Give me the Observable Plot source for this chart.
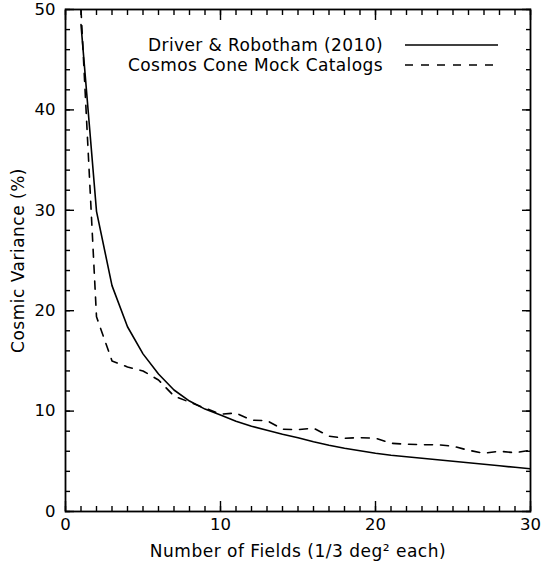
<!DOCTYPE html>
<html>
<head>
<meta charset="utf-8">
<script src="https://cdn.jsdelivr.net/npm/d3@7"></script>
<script src="https://cdn.jsdelivr.net/npm/@observablehq/plot@0.6"></script>
<style>
  html, body { margin: 0; padding: 0; background: #fff; }
  #chart { width: 543px; height: 563px; }
  .ttl { letter-spacing: 0.5px; }
</style>
</head>
<body>
<div id="chart"></div>
<script>
// ---- data ----
const fields = [1,2,3,4,5,6,7,8,9,10,11,12,13,14,15,16,17,18,19,20,21,22,23,24,25,26,27,28,29,30];
const driverRobotham = [48.5,29.9,22.5,18.4,15.7,13.7,12.1,11.0,10.2,9.6,9.0,8.5,8.1,7.7,7.35,6.95,6.6,6.3,6.05,5.8,5.6,5.45,5.3,5.15,5.0,4.85,4.7,4.55,4.4,4.25];
const cosmosMock = [50.0,19.4,15.0,14.4,14.0,13.1,11.5,10.9,10.3,9.7,9.8,9.1,9.05,8.2,8.15,8.3,7.5,7.3,7.35,7.3,6.8,6.7,6.65,6.65,6.5,6.1,5.8,6.0,5.85,6.1];
const seriesNames = ["Driver & Robotham (2010)", "Cosmos Cone Mock Catalogs"];
const seriesDash = [null, "8,8"];
const xMajor = [0, 10, 20, 30];
const xMinor = d3.range(0, 31, 1);
const yMajor = [0, 10, 20, 30, 40, 50];
const yMinor = d3.range(0, 51, 2);
const xLabel = "Number of Fields (1/3 deg² each)";
const yLabel = "Cosmic Variance (%)";

const rows = [];
fields.forEach((n, i) => {
  rows.push({series: seriesNames[0], n, v: driverRobotham[i]});
  rows.push({series: seriesNames[1], n, v: cosmosMock[i]});
});

const W = 543, H = 563;
const mL = 65, mR = 13, mT = 9, mB = 52;

const lineW = 1.6;
const plot = Plot.plot({
  width: W, height: H,
  marginLeft: mL, marginRight: mR, marginTop: mT, marginBottom: mB,
  style: {fontFamily: "DejaVu Sans", fontSize: "16px", color: "black", background: "white"},
  x: {domain: [0, 30]},
  y: {domain: [0, 50]},
  marks: [
    Plot.line(rows.filter(d => d.series === seriesNames[0]), {x: "n", y: "v", stroke: "black", strokeWidth: lineW, clip: true}),
    Plot.line(rows.filter(d => d.series === seriesNames[1]), {x: "n", y: "v", stroke: "black", strokeWidth: lineW, strokeDasharray: seriesDash[1], clip: true}),
    // inward ticks on all four sides
    Plot.axisX(xMajor, {anchor: "bottom", tickSize: -10, fill: "none", label: null, strokeWidth: 1.4}),
    Plot.axisX(xMinor, {anchor: "bottom", tickSize: -5, fill: "none", label: null, strokeWidth: 1.4}),
    Plot.axisX(xMajor, {anchor: "top", tickSize: -10, fill: "none", label: null, strokeWidth: 1.4}),
    Plot.axisX(xMinor, {anchor: "top", tickSize: -5, fill: "none", label: null, strokeWidth: 1.4}),
    Plot.axisY(yMajor, {anchor: "left", tickSize: -9, fill: "none", label: null, strokeWidth: 1.4}),
    Plot.axisY(yMinor, {anchor: "left", tickSize: -5, fill: "none", label: null, strokeWidth: 1.4}),
    Plot.axisY(yMajor, {anchor: "right", tickSize: -9, fill: "none", label: null, strokeWidth: 1.4}),
    Plot.axisY(yMinor, {anchor: "right", tickSize: -5, fill: "none", label: null, strokeWidth: 1.4}),
    // tick labels
    Plot.axisX(xMajor, {anchor: "bottom", tickSize: 0, tickPadding: 7, label: null, tickFormat: d3.format("d"), fontSize: 16.5}),
    Plot.axisY(yMajor, {anchor: "left", tickSize: 0, tickPadding: 10, label: null, tickFormat: d3.format("d"), fontSize: 16.5}),
    // axis titles
    Plot.text([xLabel], {frameAnchor: "bottom", text: d => d, textAnchor: "middle", lineAnchor: "bottom", dy: 45, fontSize: 17, fill: "black", className: "ttl"}),
    Plot.text([yLabel], {frameAnchor: "left", text: d => d, textAnchor: "middle", lineAnchor: "bottom", rotate: -90, dx: -42, fontSize: 17, fill: "black", className: "ttl"}),
    Plot.frame({stroke: "black", strokeWidth: 1.8})
  ]
});

// legend (inside plot, top-right)
const svg = d3.select(plot);
const lg = svg.append("g").attr("font-family", "DejaVu Sans").attr("font-size", 17).attr("letter-spacing", "0.4px");
seriesNames.forEach((name, i) => {
  const cy = 45 + i * 20;
  lg.append("text")
    .attr("x", 383).attr("y", cy).attr("dy", "0.35em")
    .attr("text-anchor", "end").attr("fill", "black")
    .text(name);
  lg.append("line")
    .attr("x1", 405).attr("x2", 498).attr("y1", cy).attr("y2", cy)
    .attr("stroke", "black").attr("stroke-width", lineW)
    .attr("stroke-dasharray", seriesDash[i]);
});

document.getElementById("chart").appendChild(plot);
</script>
</body>
</html>
